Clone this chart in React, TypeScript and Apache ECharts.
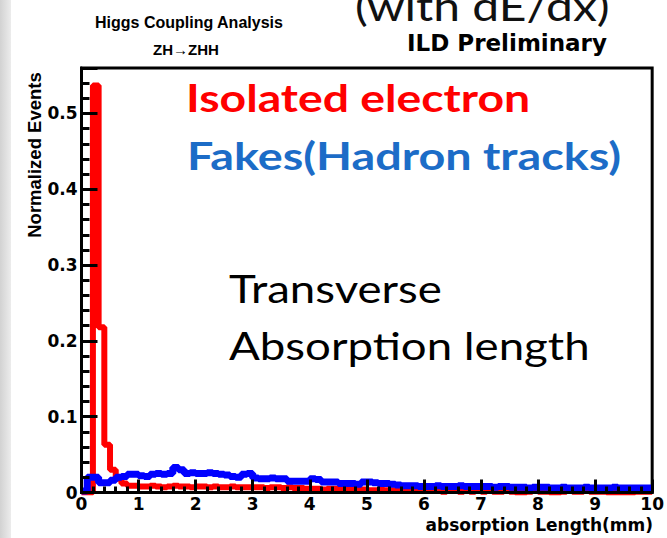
import React, { useEffect, useRef } from "react";
import * as echarts from "echarts";

// Histogram binning: 100 bins of 0.1 mm between 0 and 10 mm
const BIN_WIDTH = 0.1;
const X_MIN = 0;
const X_MAX = 10;
const Y_MAX = 0.56;

// Isolated electron: normalized events per bin
const electronValues: number[] = [
  0, 0, 0.537, 0.218, 0.063, 0.03, 0.018, 0.012, 0.009, 0.009,
  0.008, 0.008, 0.009, 0.008, 0.007, 0.008, 0.009, 0.008, 0.008, 0.007,
  0.008, 0.008, 0.007, 0.008, 0.007, 0.007, 0.008, 0.007, 0.007, 0.007,
  0.007, 0.007, 0.006, 0.007, 0.007, 0.006, 0.007, 0.006, 0.006, 0.005,
  0.005, 0.005, 0.004, 0.005, 0.005, 0.004, 0.005, 0.004, 0.004, 0.004,
  0.003, 0.003, 0.004, 0.003, 0.003, 0.003, 0.002, 0.003, 0.002, 0.002,
  0.002, 0.002, 0.002, 0.001, 0.002, 0.002, 0.001, 0.002, 0.001, 0.002,
  0.001, 0.002, 0.001, 0.001, 0.002, 0.001, 0, 0, 0.001, 0.002,
  0.001, 0.001, 0, 0, 0.001, 0.002, 0.001, 0.001, 0.002, 0.001,
  0.001, 0.001, 0, 0, 0, 0, 0, 0.001, 0.001, 0.001,
];

// Fakes (hadron tracks): normalized events per bin
const fakeValues: number[] = [
  0.002, 0.02, 0.02, 0.013, 0.013, 0.016, 0.02, 0.021, 0.024, 0.024,
  0.022, 0.021, 0.024, 0.025, 0.024, 0.025, 0.033, 0.03, 0.025, 0.026,
  0.025, 0.025, 0.026, 0.025, 0.024, 0.023, 0.021, 0.02, 0.024, 0.025,
  0.019, 0.018, 0.018, 0.019, 0.018, 0.018, 0.015, 0.015, 0.015, 0.015,
  0.018, 0.017, 0.014, 0.014, 0.014, 0.012, 0.012, 0.012, 0.011, 0.014,
  0.014, 0.013, 0.012, 0.012, 0.011, 0.01, 0.009, 0.009, 0.009, 0.008,
  0.008, 0.008, 0.009, 0.008, 0.008, 0.008, 0.009, 0.008, 0.008, 0.008,
  0.008, 0.008, 0.007, 0.008, 0.008, 0.007, 0.007, 0.007, 0.006, 0.007,
  0.007, 0.007, 0.006, 0.006, 0.007, 0.006, 0.006, 0.006, 0.007, 0.006,
  0.006, 0.006, 0.006, 0.007, 0.006, 0.006, 0.006, 0.006, 0.006, 0.006,
];

// Build step-histogram points from left bin edges, closing at the last edge
function histPoints(values: number[]): [number, number][] {
  const pts: [number, number][] = values.map((v, i) => [X_MIN + i * BIN_WIDTH, v]);
  pts.push([X_MIN + values.length * BIN_WIDTH, values[values.length - 1]]);
  return pts;
}

const ROOT_FONT = "'Liberation Sans', Arial, sans-serif";
const WIDE_FONT = "'DejaVu Sans', 'Liberation Sans', sans-serif";
const SLIDE_FONT = "Lato, 'Open Sans', sans-serif";

// Horizontally stretched slide text
function slideText(text: string, x: number, y: number, font: string, fill: string, stretch = 1.2) {
  return {
    type: "text",
    x,
    y,
    scaleX: stretch,
    style: { text, font, fill, align: "left", verticalAlign: "top" },
  };
}

export default function App() {
  const ref = useRef<HTMLDivElement>(null);

  useEffect(() => {
    if (!ref.current) return;
    const chart = echarts.init(ref.current, undefined, { renderer: "svg" });

    const axisLabel = {
      fontFamily: WIDE_FONT,
      fontWeight: "bold" as const,
      fontSize: 17,
      color: "#000",
    };

    chart.setOption({
      animation: false,
      backgroundColor: "#fff",
      grid: {
        left: 81.5,
        right: 14,
        top: 68,
        bottom: 45.5,
        show: true,
        borderColor: "#000",
        borderWidth: 3,
        backgroundColor: "transparent",
      },
      xAxis: {
        type: "value",
        min: X_MIN,
        max: X_MAX,
        interval: 1,
        z: 5,
        axisLine: { show: true, lineStyle: { color: "#000", width: 3 } },
        axisTick: { show: true, inside: true, length: 13, lineStyle: { color: "#000", width: 3 } },
        minorTick: { show: true, splitNumber: 5, length: 6, lineStyle: { color: "#000", width: 3 } },
        splitLine: { show: false },
        axisLabel: { ...axisLabel, margin: 3 },
      },
      yAxis: {
        type: "value",
        min: 0,
        max: Y_MAX,
        interval: 0.1,
        z: 5,
        axisLine: { show: true, lineStyle: { color: "#000", width: 3 } },
        axisTick: { show: true, inside: true, length: 16, lineStyle: { color: "#000", width: 3 } },
        minorTick: { show: true, splitNumber: 5, length: 8, lineStyle: { color: "#000", width: 3 } },
        splitLine: { show: false },
        axisLabel: {
          ...axisLabel,
          margin: 4,
          showMaxLabel: false,
          formatter: (v: number) => (v === 0 ? "0" : String(Math.round(v * 10) / 10)),
        },
      },
      series: [
        {
          name: "Isolated electron",
          type: "line",
          step: "end",
          showSymbol: false,
          data: histPoints(electronValues),
          lineStyle: { color: "#ff0000", width: 6 },
          z: 2,
        },
        {
          name: "Fakes(Hadron tracks)",
          type: "line",
          step: "end",
          showSymbol: false,
          data: histPoints(fakeValues),
          lineStyle: { color: "#0000ff", width: 7 },
          z: 3,
        },
      ],
      graphic: [
        {
          type: "rect",
          shape: { x: 0, y: 0, width: 11, height: 538 },
          style: {
            fill: new echarts.graphic.LinearGradient(0, 0, 1, 0, [
              { offset: 0, color: "#d2d2d2" },
              { offset: 1, color: "#ececec" },
            ]),
          },
          silent: true,
        },
        {
          type: "text",
          left: 95,
          top: 14,
          style: { text: "Higgs Coupling Analysis", font: `bold 16px ${ROOT_FONT}`, fill: "#000" },
        },
        {
          type: "text",
          left: 153,
          top: 42,
          style: { text: "ZH\u2192ZHH", font: `bold 15px ${ROOT_FONT}`, fill: "#000" },
        },
        slideText("(with dE/dx)", 355, -15, `40px ${SLIDE_FONT}`, "#111"),
        {
          type: "text",
          left: 407,
          top: 31,
          style: { text: "ILD Preliminary", font: `bold 23px ${WIDE_FONT}`, fill: "#000" },
        },
        slideText("Isolated electron", 186, 78, `bold 38px ${SLIDE_FONT}`, "#ff0000", 1.22),
        slideText("Fakes(Hadron tracks)", 187, 136, `bold 38px ${SLIDE_FONT}`, "#1c6cc7", 1.23),
        slideText("Transverse", 229, 270, `38px ${SLIDE_FONT}`, "#000"),
        slideText("Absorption length", 229, 327, `38px ${SLIDE_FONT}`, "#000"),
        {
          type: "text",
          right: 14,
          top: 516,
          style: { text: "absorption Length(mm)", font: `bold 17px ${WIDE_FONT}`, fill: "#000" },
        },
        {
          type: "text",
          x: 34,
          y: 155,
          rotation: Math.PI / 2,
          style: {
            text: "Normalized Events",
            font: `bold 18.5px ${ROOT_FONT}`,
            fill: "#000",
            align: "center",
            verticalAlign: "middle",
          },
        },
      ],
    });

    return () => chart.dispose();
  }, []);

  return (
    <div
      ref={ref}
      style={{ position: "absolute", left: 0, top: 0, width: 667, height: 538 }}
    />
  );
}
